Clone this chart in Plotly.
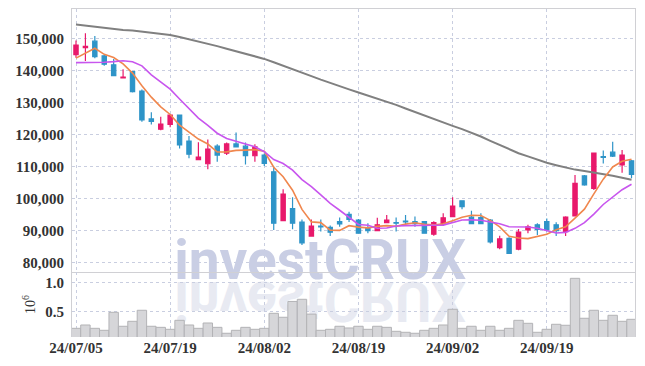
import plotly.graph_objects as go

dates = ["2024-07-05","2024-07-08","2024-07-09","2024-07-10","2024-07-11","2024-07-12",
         "2024-07-15","2024-07-16","2024-07-17","2024-07-18","2024-07-19",
         "2024-07-22","2024-07-23","2024-07-24","2024-07-25","2024-07-26",
         "2024-07-29","2024-07-30","2024-07-31","2024-08-01","2024-08-02",
         "2024-08-05","2024-08-06","2024-08-07","2024-08-08","2024-08-09",
         "2024-08-12","2024-08-13","2024-08-14","2024-08-16","2024-08-19",
         "2024-08-20","2024-08-21","2024-08-22","2024-08-23","2024-08-26",
         "2024-08-27","2024-08-28","2024-08-29","2024-08-30","2024-09-02",
         "2024-09-03","2024-09-04","2024-09-05","2024-09-06","2024-09-09",
         "2024-09-10","2024-09-11","2024-09-12","2024-09-13","2024-09-19",
         "2024-09-20","2024-09-23","2024-09-24","2024-09-25","2024-09-26",
         "2024-09-27","2024-09-30","2024-10-02","2024-10-04"]
tick_dates = ["2024-07-05", "2024-07-19", "2024-08-02", "2024-08-19", "2024-09-02", "2024-09-19"]
tick_labels = ["24/07/05", "24/07/19", "24/08/02", "24/08/19", "24/09/02", "24/09/19"]

open_ = [144900, 147100, 149100, 144500, 141700, 137600, 139600, 133500, 124800, 121600,
         123100, 126000, 117900, 112100, 110800, 116300, 114100, 117000, 116300, 113300,
         113500, 108300, 93000, 96800, 92600, 88200, 91300, 90900, 92700, 95000,
         93200, 90800, 89900, 92400, 92400, 92900, 92700, 92700, 88800, 91900,
         94300, 99200, 94100, 94000, 93200, 84600, 87500, 84100, 90100, 91700,
         92700, 91700, 89600, 94500, 107000, 103100, 113000, 114400, 110400, 111700]
high = [149300, 151600, 150700, 144800, 143500, 140300, 139800, 134000, 126900, 125500,
        126300, 126100, 119500, 117500, 118400, 116900, 117400, 120600, 117400, 116900,
        114000, 109900, 102800, 100300, 93400, 93400, 93400, 91500, 94000, 95800,
        93500, 92200, 93900, 94800, 94000, 94800, 94300, 92800, 92800, 95300,
        100300, 99300, 96100, 95300, 93500, 88300, 87800, 90400, 91700, 92200,
        93700, 92500, 94400, 107300, 107300, 114300, 114900, 117700, 115100, 112000]
low = [143900, 142900, 143800, 141400, 138200, 137500, 133100, 123900, 123100, 121300,
       122200, 115600, 112500, 112000, 109100, 111400, 113500, 116000, 110600, 111400,
       110100, 90100, 92900, 90300, 85400, 88100, 89600, 88200, 91100, 92600,
       89000, 89100, 89800, 92200, 89600, 91700, 91100, 89000, 88300, 91400,
       94200, 96600, 92000, 91900, 85900, 84100, 82700, 83800, 89100, 88500,
       89600, 88200, 88200, 94400, 103900, 102600, 110900, 112900, 108000, 106300]
close = [147900, 147500, 144300, 141900, 138300, 137900, 133300, 124500, 124000, 123200,
         126000, 116700, 113800, 112900, 115400, 113500, 117000, 116100, 113300, 116100,
         110900, 92200, 101300, 92200, 86100, 91300, 91100, 89400, 92000, 93400,
         89100, 89900, 91700, 93200, 92200, 92600, 92100, 89100, 92400, 93900,
         97600, 97400, 92100, 92100, 86400, 87300, 82800, 89400, 91100, 90300,
         90100, 89900, 94100, 104700, 104200, 114100, 112800, 113200, 113500, 107500]

ma5 = [143800, 145300, 146900, 145000, 143980, 141980, 139140, 135180, 131600, 128580,
       126200, 122880, 120740, 118520, 116960, 114460, 114520, 114980, 115060, 115200,
       114680, 109720, 106760, 102540, 96540, 92620, 92400, 90020, 89980, 91440,
       91000, 90760, 91220, 91460, 91220, 91920, 92360, 91840, 91680, 92020,
       93020, 94080, 94680, 94620, 93120, 91060, 88140, 87600, 87400, 88180,
       88740, 90160, 91100, 93820, 96600, 101400, 105980, 109800, 111560, 112220]
ma10 = [142400, 142400, 142400, 142500, 142700, 143000, 142700, 141400, 138600, 136280,
        134090, 131010, 127960, 125060, 122770, 120330, 118700, 117860, 116790, 116080,
        114570, 112120, 110870, 108800, 105870, 103650, 101060, 98390, 96260, 93990,
        91810, 91580, 90620, 90720, 91330, 91460, 91560, 91530, 91570, 91620,
        92470, 93220, 93260, 93150, 92570, 92040, 91110, 91140, 91010, 90650,
        89900, 89150, 89350, 90610, 92390, 95070, 98070, 100450, 102690, 104410]
ma_long = [154280, 153940, 153470, 153120, 152870, 152620, 152400, 152120, 151810, 151500,
           151060, 150410, 149750, 149090, 148340, 147560, 146750, 145940, 145160, 144340,
           143560, 142500, 141470, 140410, 139310, 138190, 137090, 136000, 135000, 134030,
           133050, 132130, 131220, 130310, 129190, 128060, 126940, 125840, 124780, 123690,
           122630, 121600, 120560, 119310, 117970, 116630, 115250, 114090, 113090, 112090,
           111090, 110340, 109630, 108970, 108530, 108120, 107690, 107060, 106440, 105810]

volume_millions = [0.212, 0.269, 0.212, 0.178, 0.486, 0.247, 0.332, 0.521, 0.247, 0.229,
                   0.195, 0.349, 0.269, 0.212, 0.303, 0.229, 0.127, 0.178, 0.229, 0.195,
                   0.212, 0.469, 0.401, 0.672, 0.709, 0.455, 0.178, 0.195, 0.247, 0.218,
                   0.247, 0.195, 0.247, 0.229, 0.161, 0.144, 0.127, 0.178, 0.212, 0.269,
                   0.538, 0.212, 0.247, 0.178, 0.247, 0.178, 0.212, 0.349, 0.298, 0.144,
                   0.195, 0.281, 0.264, 1.068, 0.384, 0.521, 0.349, 0.435, 0.332, 0.366]

watermark = "investCRUX"

PINK = "#E8196B"
BLUE = "#2E94C8"
GRID = "#c9cee0"
TICKFONT = dict(family="Liberation Sans Narrow", size=15, color="#333333", weight="bold")

idx = list(range(len(dates)))
tick_idx = [dates.index(d) for d in tick_dates]

fig = go.Figure()

# watermark and its reflection (behind everything)
WM_X, WM_Y = 25.93, 79000
fig.add_trace(go.Scatter(
    x=[WM_X], y=[WM_Y], mode="text", text=[watermark],
    textfont=dict(family="Roboto", size=55, color="#c9cee4", weight="bold"),
    textposition="middle center", cliponaxis=False, hoverinfo="skip",
    showlegend=False, xaxis="x", yaxis="y"))
fig.add_trace(go.Scatter(
    x=[WM_X], y=[WM_Y], mode="text", text=[watermark],
    textfont=dict(family="Roboto", size=55, color="#e8eaf2", weight="bold"),
    textposition="middle center", cliponaxis=False, hoverinfo="skip",
    showlegend=False, xaxis="x", yaxis="y"))

fig.add_trace(go.Candlestick(
    x=idx, open=open_, high=high, low=low, close=close,
    increasing=dict(line=dict(color=PINK, width=1.2), fillcolor=PINK),
    decreasing=dict(line=dict(color=BLUE, width=1.2), fillcolor=BLUE),
    whiskerwidth=0, showlegend=False, xaxis="x", yaxis="y"))

fig.add_trace(go.Scatter(x=idx, y=ma_long, mode="lines",
                         line=dict(color="#808080", width=2), showlegend=False,
                         xaxis="x", yaxis="y"))
fig.add_trace(go.Scatter(x=idx, y=ma5, mode="lines",
                         line=dict(color="#F0874E", width=1.6), showlegend=False,
                         xaxis="x", yaxis="y"))
fig.add_trace(go.Scatter(x=idx, y=ma10, mode="lines",
                         line=dict(color="#C856EE", width=1.6), showlegend=False,
                         xaxis="x", yaxis="y"))

fig.add_trace(go.Bar(x=idx, y=volume_millions, width=1.0,
                     marker=dict(color="#d6d6d9", line=dict(color="#b3b3b6", width=1)),
                     showlegend=False, xaxis="x2", yaxis="y2"))

DOM = (337 - 272.3) / 328
XR = [-0.425, 59.37]

fig.update_layout(
    width=645, height=366,
    margin=dict(l=72, r=10, t=9, b=29),
    paper_bgcolor="white", plot_bgcolor="white",
    boxgap=0.35,
    xaxis=dict(domain=[0, 1], anchor="y", range=XR, tickvals=tick_idx, ticktext=tick_labels,
               showticklabels=False, showgrid=True, gridcolor=GRID, griddash="dot",
               gridwidth=1, showline=True, linecolor="#d0d0d4", linewidth=1, mirror=True,
               zeroline=False, ticks="", rangeslider=dict(visible=False)),
    yaxis=dict(domain=[DOM, 1], anchor="x", range=[76875, 159156],
               tickvals=[80000, 90000, 100000, 110000, 120000, 130000, 140000, 150000],
               tickformat=",d", tickfont=TICKFONT, showgrid=True, gridcolor=GRID,
               griddash="dot", showline=True, linecolor="#d0d0d4", mirror=True,
               zeroline=False, ticks="", automargin=False, ticklabelstandoff=4),
    xaxis2=dict(domain=[0, 1], anchor="y2", matches="x", range=XR, tickvals=tick_idx,
                ticktext=tick_labels, tickfont=TICKFONT, showgrid=True, gridcolor=GRID,
                griddash="dot", showline=False, zeroline=False, ticks="", automargin=False,
                ticklabelstandoff=0),
    yaxis2=dict(domain=[0, DOM], anchor="x2", range=[0.0634, 1.171],
                tickvals=[0.5, 1.0], ticktext=["0.5", "1.0"], tickfont=TICKFONT,
                showgrid=True, gridcolor=GRID, griddash="dot", showline=True,
                linecolor="#d0d0d4", mirror=True, zeroline=False, ticks="",
                automargin=False, ticklabelstandoff=4,
                title=dict(text="10<sup>6</sup>", font=dict(family="Liberation Sans Narrow",
                                                             size=14, color="#333333"),
                           standoff=6)),
)

post = """
document.body.style.margin = '0';
document.body.style.padding = '0';
(function () {
  var gd = document.getElementById('{plot_id}');
  function flip() {
    var found = [];
    gd.querySelectorAll('.scatterlayer text').forEach(function (e) {
      if (e.textContent === 'investCRUX') { found.push(e); }
    });
    if (found.length < 2) { return; }
    var base = parseFloat(found[0].getAttribute('y'));
    if (isNaN(base)) { var b = found[0].getBBox(); base = b.y + 0.79 * b.height; }
    var L = base + 1.5;
    found[1].setAttribute('transform', 'translate(0,' + (2 * L) + ') scale(1,-1)');
  }
  flip();
  if (gd.on) { gd.on('plotly_afterplot', flip); }
})();
"""

fig.write_html("out.html", post_script=post, config={"displayModeBar": False})
